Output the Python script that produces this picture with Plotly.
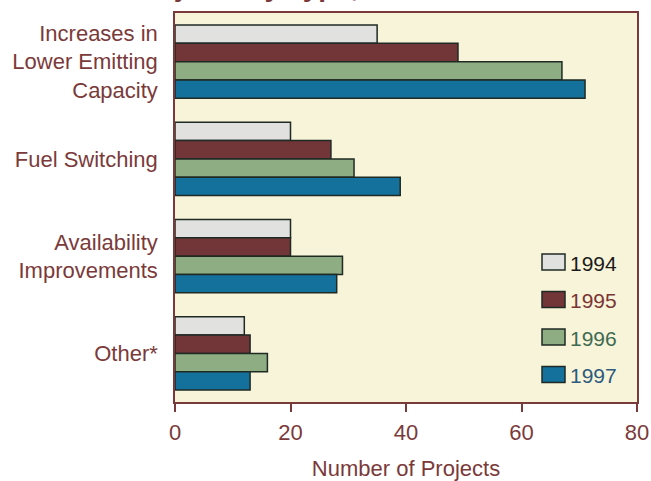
import plotly.graph_objects as go

# Project categories (top to bottom) and reporting years
categories = [
    "Increases in<br>Lower Emitting<br>Capacity",
    "Fuel Switching",
    "Availability<br>Improvements",
    "Other*",
]
years = ["1994", "1995", "1996", "1997"]

# Number of projects per category, one list per year
projects_1994 = [35, 20, 20, 12]
projects_1995 = [49, 27, 20, 13]
projects_1996 = [67, 31, 29, 16]
projects_1997 = [71, 39, 28, 13]

x_tick_values = [0, 20, 40, 60, 80]
x_axis_title = "Number of Projects"
chart_title = "Projects by Type, 1994-1997"

series = [projects_1994, projects_1995, projects_1996, projects_1997]
bar_colors = ["#e1e2df", "#733638", "#8fad82", "#14719b"]
legend_text_colors = ["#1b1b1b", "#7a3535", "#3f6a52", "#2d5a7e"]

MAROON = "#7b3a3a"
OUTLINE = "#1f2a25"
PLOT_BG = "#f8f4d9"
FONT = "Liberation Sans, Arial, sans-serif"

# Figure geometry in pixels
W, H = 651, 481
M_L, M_R, M_T, M_B = 175, 14, 13, 79
PW = W - M_L - M_R
PH = H - M_T - M_B


def paper_x(px):
    return (px - M_L) / PW


def paper_y(py):
    return 1 - (py - M_T) / PH


fig = go.Figure()
for year, values, color in zip(years, series, bar_colors):
    fig.add_trace(
        go.Bar(
            name=year,
            y=categories,
            x=values,
            orientation="h",
            marker=dict(color=color, line=dict(color=OUTLINE, width=1.5)),
            showlegend=False,
        )
    )

# Hand-drawn legend box: swatch + coloured year label
shapes = []
annotations = []
for i, (year, color, tcolor) in enumerate(zip(years, bar_colors, legend_text_colors)):
    cy = 262 + 37.5 * i
    shapes.append(
        dict(
            type="rect",
            xref="paper",
            yref="paper",
            x0=paper_x(542),
            x1=paper_x(565),
            y0=paper_y(cy + 8),
            y1=paper_y(cy - 8),
            fillcolor=color,
            line=dict(color=OUTLINE, width=1.5),
            layer="above",
        )
    )
    annotations.append(
        dict(
            xref="paper",
            yref="paper",
            x=paper_x(568),
            y=paper_y(cy + 1),
            xanchor="left",
            yanchor="middle",
            text=year,
            showarrow=False,
            font=dict(family=FONT, size=21, color=tcolor),
        )
    )

# Chart title sitting mostly above the top edge of the page
annotations.append(
    dict(
        xref="paper",
        yref="paper",
        x=paper_x(127),
        y=paper_y(-14),
        xanchor="left",
        yanchor="middle",
        text=chart_title,
        showarrow=False,
        font=dict(family=FONT, size=28, color=MAROON, weight="bold"),
    )
)

fig.update_layout(
    width=W,
    height=H,
    autosize=False,
    margin=dict(l=M_L, r=M_R, t=M_T, b=M_B, pad=0, autoexpand=False),
    paper_bgcolor="white",
    plot_bgcolor=PLOT_BG,
    barmode="group",
    bargap=0.245,
    bargroupgap=0,
    font=dict(family=FONT, size=22, color=MAROON),
    shapes=shapes,
    annotations=annotations,
    xaxis=dict(
        range=[0, 80],
        tickvals=x_tick_values,
        ticks="outside",
        ticklen=8,
        tickwidth=1.5,
        tickcolor=MAROON,
        showgrid=False,
        zeroline=False,
        showline=True,
        linecolor=MAROON,
        linewidth=1.5,
        mirror=True,
        automargin=False,
        ticklabelstandoff=2,
        title=dict(text=x_axis_title, standoff=16, font=dict(size=22, color=MAROON)),
        fixedrange=True,
    ),
    yaxis=dict(
        categoryorder="array",
        categoryarray=categories,
        range=[3.5, -0.5],
        ticks="",
        showgrid=False,
        zeroline=False,
        showline=True,
        linecolor=MAROON,
        linewidth=1.5,
        mirror=True,
        automargin=False,
        ticklabelstandoff=11,
        fixedrange=True,
    ),
)

fig.write_html("out.html")
